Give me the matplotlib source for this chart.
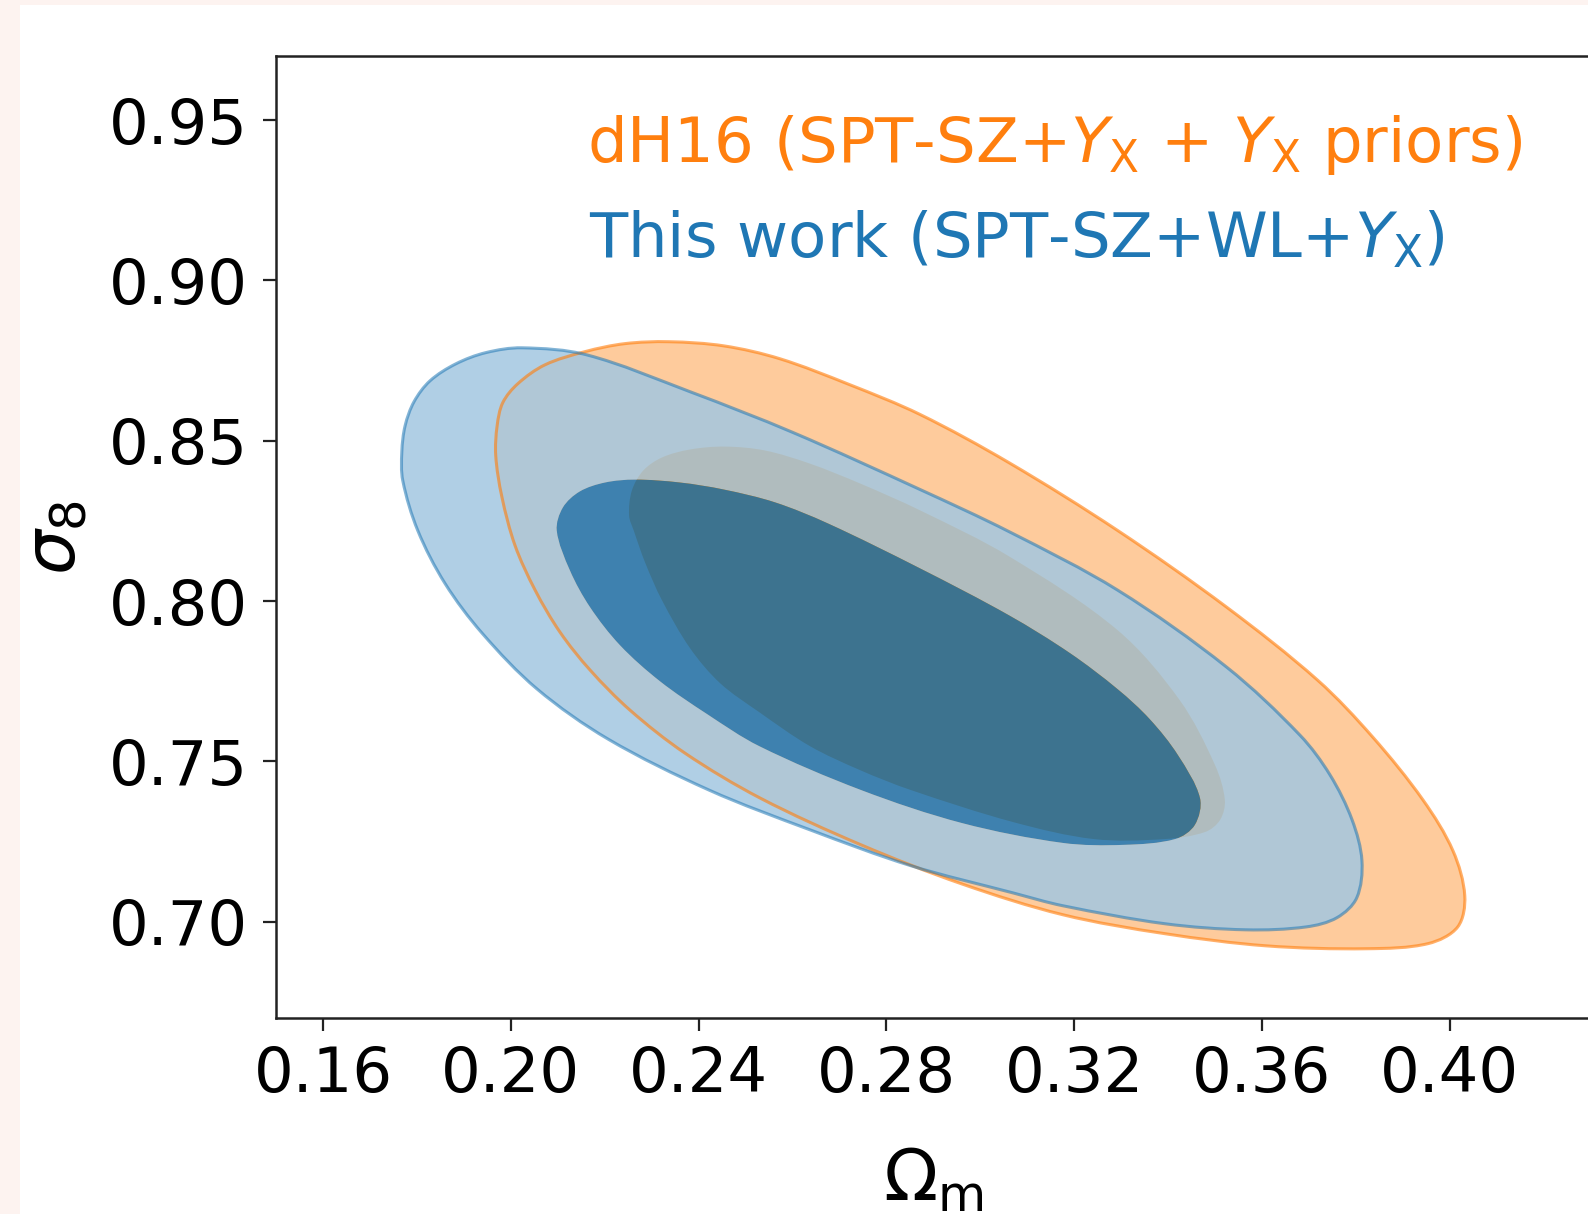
import matplotlib
matplotlib.use("Agg")
import matplotlib.pyplot as plt
import numpy as np
from matplotlib.path import Path
from matplotlib.patches import PathPatch, Rectangle

# ---- contour outlines: (Omega_m, sigma_8) ----
dh16_95_om = [0.1968, 0.1971, 0.1983, 0.2015, 0.2073, 0.2158, 0.2243, 0.2337, 0.2454, 0.2573,
              0.2722, 0.2872, 0.3061, 0.3293, 0.3525, 0.3719, 0.3836, 0.3943, 0.4007, 0.4032,
              0.4017, 0.3954, 0.3824, 0.3609, 0.3393, 0.3176, 0.2961, 0.2746, 0.2531, 0.2371,
              0.2254, 0.2169, 0.2105, 0.2052, 0.2009, 0.1981]
dh16_95_s8 = [0.8454, 0.8547, 0.8619, 0.8678, 0.8737, 0.8778, 0.8803, 0.8809, 0.8796, 0.8756,
              0.8675, 0.8582, 0.8432, 0.8220, 0.7981, 0.7753, 0.7576, 0.7380, 0.7221, 0.7081,
              0.6984, 0.6932, 0.6916, 0.6925, 0.6963, 0.7022, 0.7118, 0.7240, 0.7386, 0.7526,
              0.7660, 0.7785, 0.7903, 0.8034, 0.8174, 0.8326]

dh16_68_om = [0.2252, 0.2258, 0.2282, 0.2322, 0.2382, 0.2456, 0.2541, 0.2637, 0.2744, 0.2872,
              0.3061, 0.3293, 0.3425, 0.3500, 0.3521, 0.3511, 0.3479, 0.3393, 0.3242, 0.3070,
              0.2852, 0.2744, 0.2637, 0.2529, 0.2446, 0.2382, 0.2322, 0.2286, 0.2262]
dh16_68_s8 = [0.8267, 0.8345, 0.8407, 0.8448, 0.8473, 0.8482, 0.8470, 0.8429, 0.8367, 0.8283,
              0.8140, 0.7909, 0.7691, 0.7489, 0.7380, 0.7318, 0.7280, 0.7258, 0.7258, 0.7311,
              0.7411, 0.7473, 0.7548, 0.7654, 0.7744, 0.7853, 0.8003, 0.8121, 0.8220]

this_95_om = [0.1768, 0.1775, 0.1794, 0.1828, 0.1883, 0.1947, 0.2024, 0.2162, 0.2382, 0.2601,
              0.2872, 0.3061, 0.3293, 0.3525, 0.3681, 0.3745, 0.3792, 0.3813, 0.3802, 0.3760,
              0.3694, 0.3566, 0.3393, 0.3176, 0.3070, 0.2852, 0.2637, 0.2422, 0.2207, 0.2056,
              0.1939, 0.1860, 0.1802, 0.1770]
this_95_s8 = [0.8466, 0.8547, 0.8622, 0.8687, 0.8740, 0.8775, 0.8790, 0.8768, 0.8653, 0.8526,
              0.8348, 0.8217, 0.8034, 0.7794, 0.7582, 0.7458, 0.7318, 0.7190, 0.7075, 0.7013,
              0.6984, 0.6975, 0.6994, 0.7050, 0.7090, 0.7175, 0.7287, 0.7411, 0.7570, 0.7726,
              0.7900, 0.8055, 0.8220, 0.8376]

this_68_om = [0.2098, 0.2111, 0.2147, 0.2201, 0.2265, 0.2360, 0.2454, 0.2563, 0.2676, 0.2872,
              0.3061, 0.3191, 0.3293, 0.3361, 0.3421, 0.3468, 0.3457, 0.3415, 0.3306, 0.3176,
              0.2961, 0.2746, 0.2529, 0.2418, 0.2318, 0.2233, 0.2169, 0.2126]
this_68_s8 = [0.8220, 0.8292, 0.8342, 0.8370, 0.8379, 0.8370, 0.8348, 0.8308, 0.8242, 0.8102,
              0.7956, 0.7838, 0.7725, 0.7632, 0.7520, 0.7386, 0.7302, 0.7258, 0.7240, 0.7246,
              0.7308, 0.7411, 0.7548, 0.7648, 0.7750, 0.7862, 0.7981, 0.8096]

x_ticks = [0.16, 0.20, 0.24, 0.28, 0.32, 0.36, 0.40]
x_ticklabels = ["0.16", "0.20", "0.24", "0.28", "0.32", "0.36", "0.40"]
y_ticks = [0.70, 0.75, 0.80, 0.85, 0.90, 0.95]
y_ticklabels = ["0.70", "0.75", "0.80", "0.85", "0.90", "0.95"]

label_dh16 = r"dH16 (SPT-SZ+$Y_\mathrm{X}$ + $Y_\mathrm{X}$ priors)"
label_this = r"This work (SPT-SZ+WL+$Y_\mathrm{X}$)"

# ---- helpers ----
SX, SY = 4690.0, 3212.0   # approx. pixels per data unit, for isotropic spacing


def signed_area(xs, ys):
    x = np.asarray(xs); y = np.asarray(ys)
    return 0.5 * np.sum(x * np.roll(y, -1) - np.roll(x, -1) * y)


def smooth_path(xs, ys):
    """Closed smooth curve through the read outline points (cubic Bezier segments)."""
    pts = np.column_stack([xs, ys]).astype(float)
    n = len(pts)
    scale = np.array([SX, SY])
    d = np.linalg.norm((np.roll(pts, -1, axis=0) - pts) * scale, axis=1)  # d[i]: i -> i+1
    tang = np.zeros_like(pts)
    for i in range(n):
        tang[i] = (pts[(i + 1) % n] - pts[i - 1]) / (d[i - 1] + d[i])
    verts = [pts[0]]
    codes = [Path.MOVETO]
    for i in range(n):
        j = (i + 1) % n
        c1 = pts[i] + tang[i] * d[i] / 3.0
        c2 = pts[j] - tang[j] * d[i] / 3.0
        verts += [c1, c2, pts[j]]
        codes += [Path.CURVE4] * 3
    verts.append(pts[0])
    codes.append(Path.CLOSEPOLY)
    return Path(np.array(verts), codes)


def ring_path(oxs, oys, ixs, iys):
    if np.sign(signed_area(oxs, oys)) == np.sign(signed_area(ixs, iys)):
        ixs, iys = ixs[::-1], iys[::-1]
    return Path.make_compound_path(smooth_path(oxs, oys), smooth_path(ixs, iys))


FS = 45
FS_LABEL = 51
plt.rcParams["font.family"] = ["DejaVu Sans"]
plt.rcParams["mathtext.fontset"] = "dejavusans"

W, H = 1588, 1214
fig = plt.figure(figsize=(W / 100, H / 100), dpi=100, facecolor="#fdf3f0")
fig.patches.append(Rectangle((20 / W, 0), 1.0, 1 - 5 / H, transform=fig.transFigure,
                             facecolor="white", edgecolor="none", zorder=-10))

ax_left, ax_top, ax_bottom = 276, 56, 1018
ax_w = 1314.6
ax_h = ax_bottom - ax_top
ax = fig.add_axes([ax_left / W, 1 - ax_bottom / H, ax_w / W, ax_h / H])
ax.set_xlim(0.15, 0.43)
ax.set_ylim(0.67, 0.97)

# dH16 contours
ax.add_patch(PathPatch(smooth_path(dh16_95_om, dh16_95_s8), facecolor="#fecb9c",
                       edgecolor="none", zorder=1))
ax.add_patch(PathPatch(smooth_path(dh16_68_om, dh16_68_s8), facecolor="#f98500",
                       edgecolor="none", zorder=2))
# This work contours
ax.add_patch(PathPatch(ring_path(this_95_om, this_95_s8, this_68_om, this_68_s8),
                       facecolor="#a3c7e1", alpha=0.85, edgecolor="none", zorder=3))
ax.add_patch(PathPatch(smooth_path(this_68_om, this_68_s8), facecolor="#0e6fb4",
                       alpha=0.8, edgecolor="none", zorder=4))
# outer edges
ax.add_patch(PathPatch(smooth_path(dh16_95_om, dh16_95_s8), fill=False,
                       edgecolor="#ff7f0e", alpha=0.62, lw=2.2, zorder=5))
ax.add_patch(PathPatch(smooth_path(this_95_om, this_95_s8), fill=False,
                       edgecolor="#1f77b4", alpha=0.55, lw=2.2, zorder=6))

ax.set_xticks(x_ticks)
ax.set_xticklabels(x_ticklabels)
ax.set_yticks(y_ticks)
ax.set_yticklabels(y_ticklabels)
ax.tick_params(axis="both", labelsize=FS, length=9.5, width=1.6, color="#222222")
ax.tick_params(axis="x", pad=10)
ax.tick_params(axis="y", pad=11)
for sp in ax.spines.values():
    sp.set_linewidth(1.8)
    sp.set_color("#222222")

ax.set_xlabel(r"$\Omega_\mathrm{m}$", fontsize=FS_LABEL)
ax.set_ylabel(r"$\sigma_8$", fontsize=FS_LABEL)
ax.xaxis.set_label_coords(0.5, (ax_bottom - 1146) / ax_h)
ax.yaxis.set_label_coords((91 - ax_left) / ax_w, 0.5)

ax.text((587 - ax_left) / ax_w, (ax_bottom - 162) / ax_h, label_dh16,
        color="#ff7f0e", fontsize=FS, transform=ax.transAxes, va="baseline", ha="left")
ax.text((589 - ax_left) / ax_w, (ax_bottom - 258) / ax_h, label_this,
        color="#1f77b4", fontsize=FS, transform=ax.transAxes, va="baseline", ha="left")

fig.savefig("out.png", dpi=100, facecolor=fig.get_facecolor())
